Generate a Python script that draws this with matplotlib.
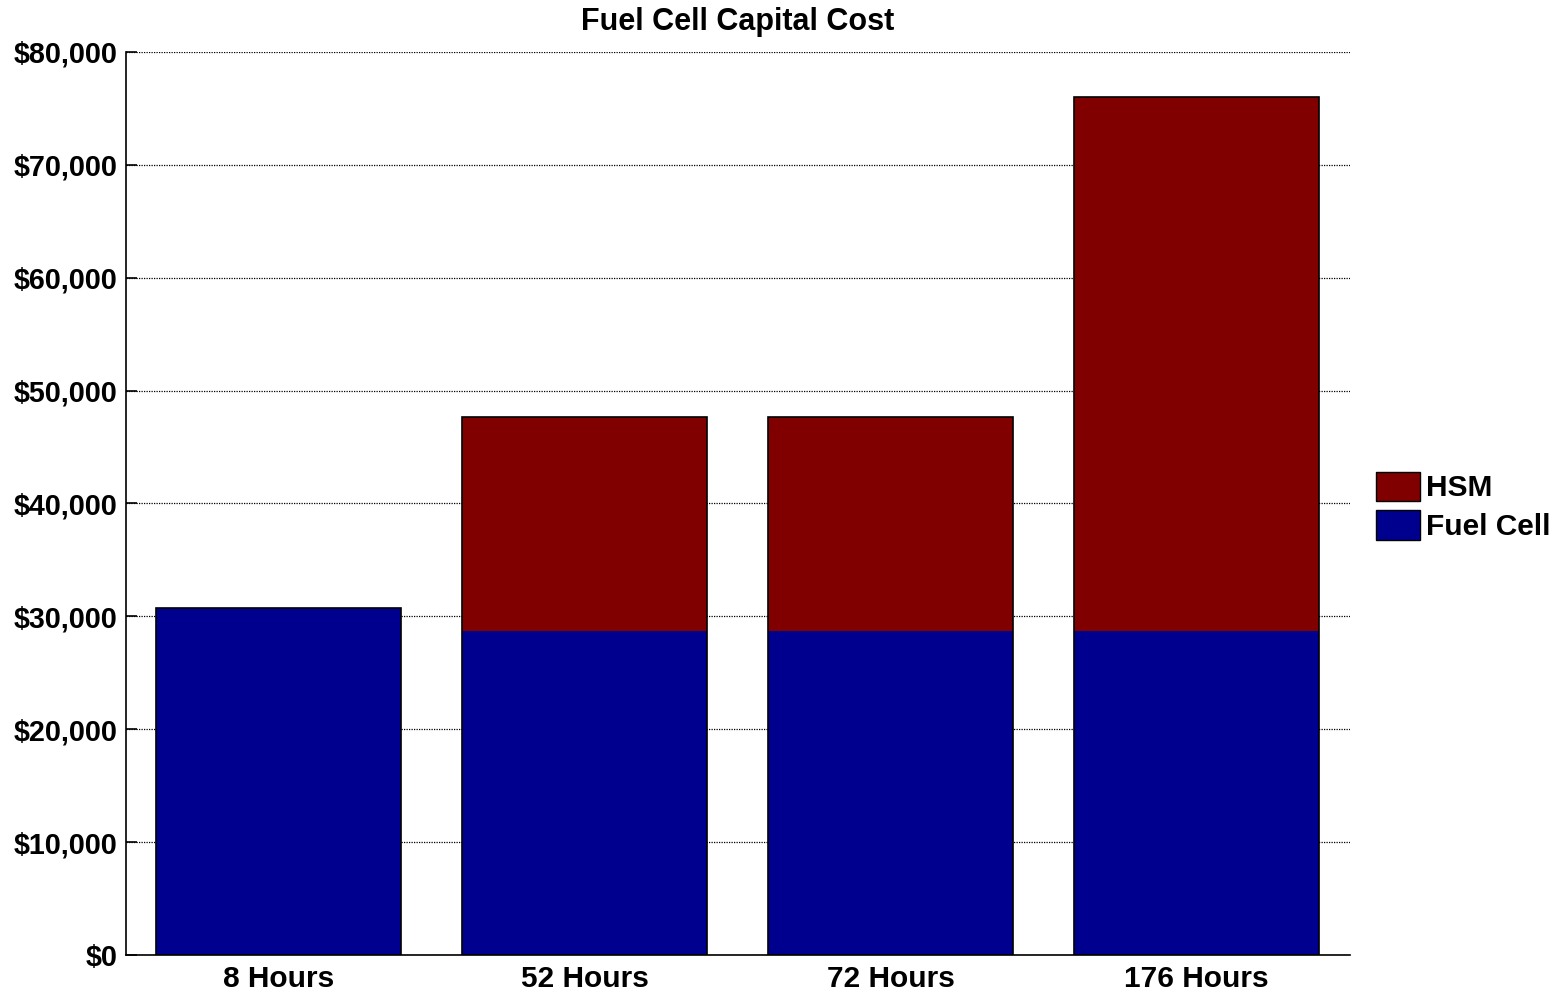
import numpy as np
import matplotlib.pyplot as plt
from matplotlib.ticker import FuncFormatter

plt.rcParams['font.family'] = ['Liberation Sans', 'DejaVu Sans']
plt.rcParams['font.weight'] = 'bold'

categories = ['8 Hours', '52 Hours', '72 Hours', '176 Hours']
fuel_cell = [30750, 28700, 28700, 28700]
hsm = [0, 18950, 18950, 47350]

blue = '#00008f'
red = '#800000'

fig = plt.figure(figsize=(15.62, 9.92), dpi=100)
ax = fig.add_axes([0.0805, 0.0373, 0.7835, 0.9103])

x = np.arange(len(categories))
w = 0.8
total = np.array(fuel_cell) + np.array(hsm)

b1 = ax.bar(x, fuel_cell, w, color=blue, linewidth=0, label='Fuel Cell', zorder=2)
b2 = ax.bar(x, hsm, w, bottom=fuel_cell, color=red, linewidth=0, label='HSM', zorder=2)
# outline around the whole stack
ax.bar(x, total, w, fill=False, edgecolor='black', linewidth=1.2, zorder=3)

ax.set_xlim(-0.5, 3.5)
ax.set_ylim(0, 80000)
ax.set_yticks(np.arange(0, 80001, 10000))
ax.yaxis.set_major_formatter(FuncFormatter(lambda v, p: '${:,.0f}'.format(v)))
ax.set_xticks(x)
ax.set_xticklabels(categories)
ax.tick_params(axis='x', labelsize=21.5, length=0, pad=7)
ax.tick_params(axis='y', labelsize=20.7, direction='in', length=8, width=1.2, pad=6)
for lab in ax.get_xticklabels() + ax.get_yticklabels():
    lab.set_fontweight('bold')

ax.grid(axis='y', linestyle=(0, (1, 1)), color='black', linewidth=0.9, zorder=1)
ax.set_axisbelow(True)
for s in ['top', 'right']:
    ax.spines[s].set_visible(False)
for s in ['left', 'bottom']:
    ax.spines[s].set_linewidth(1.2)

ax.set_title('Fuel Cell Capital Cost', fontsize=22, fontweight='bold', pad=16)

ax.legend([b2, b1], ['HSM', 'Fuel Cell'], loc='center left', bbox_to_anchor=(1.0, 0.497),
          frameon=False, handlelength=1.45, handleheight=1.15,
          handletextpad=0.2, labelspacing=0.25, borderaxespad=0.5,
          prop={'weight': 'bold', 'size': 21.5})
for p in ax.get_legend().get_patches():
    p.set_edgecolor('black')
    p.set_linewidth(1.0)

fig.savefig('out.png', dpi=100)
